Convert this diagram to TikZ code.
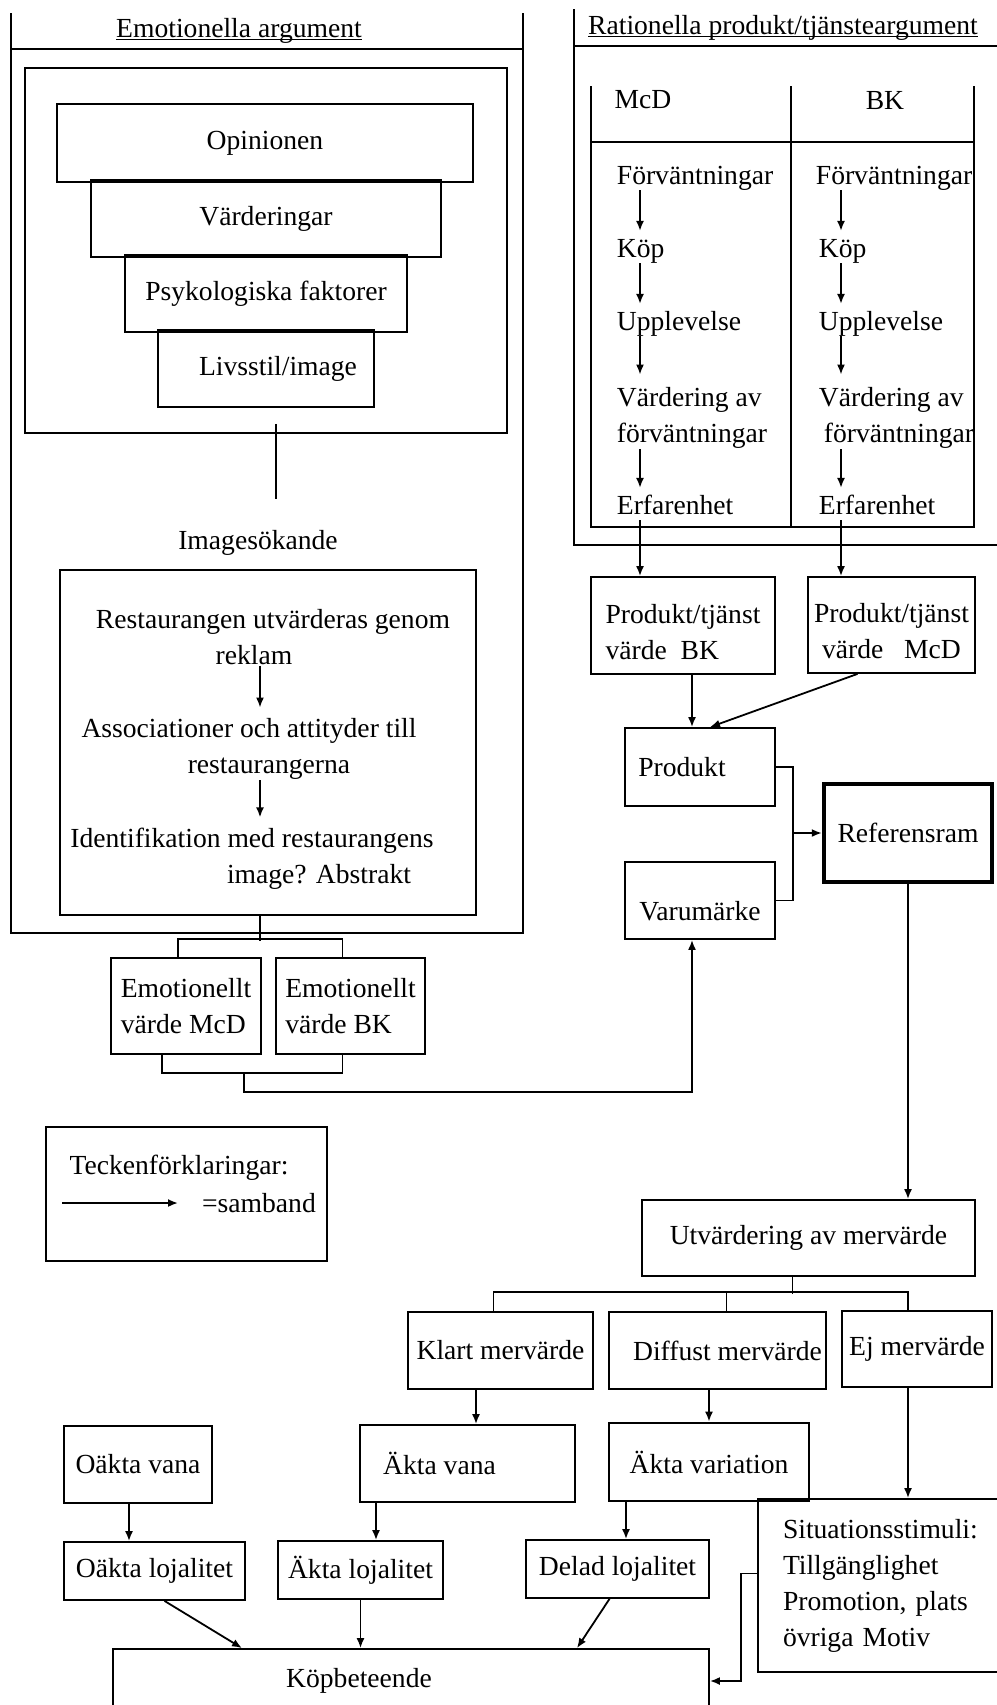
\documentclass[tikz,border=0pt]{standalone}
\usepackage{fontspec}
\setmainfont{Liberation Serif}
\usetikzlibrary{arrows.meta}
\tikzset{
	box/.style = {draw, line width=0.9pt, inner sep=0pt, align=center},
	wh/.style 2 args = {minimum width=#1*0.5pt, minimum height=#2*0.5pt},
	arr/.style = {-{Latex[length=5pt,width=4pt]}},
	item/.style = {inner sep=0pt, anchor=west, align=left},
	item1/.style = {item, text height=0.7em, text depth=0.22em},
}

\begin{document}
\begin{tikzpicture}[x=0.5pt, y=-0.5pt, line width=0.9pt, font=\fontsize{13.8}{18}\selectfont]
\useasboundingbox (0,0) rectangle (997,1705);
\clip (0,0) rectangle (997,1705);

% FRAMES

% emotionella
\draw (11,13) -- (11,933) -- (523,933) -- (523,13);
\draw (11,49) -- (523,49);
\node (emtitle) [anchor=base] at (239,37) {\underline{\smash{Emotionella argument}}};

% rationella
\draw (574,9) -- (574,545) -- (1000,545);
\draw (574,46) -- (1000,46);
\node (ratitle) [anchor=base] at (783,34) {\underline{\smash{Rationella produkt/tjänsteargument}}};

% NODES

% funnel
\node (inner) [box, wh={482}{365}] at (266,250.5) {};
\node (opin) [box, wh={416}{78}] at (265,143) {Opinionen};
\node (vard) [box, wh={350}{77}] at (266,218.5) {Värderingar};
\node (psyk) [box, wh={282}{77}] at (266,293.5) {Psykologiska faktorer};
\node (livs) [box, wh={216}{77}] at (266,368.5) {\hspace*{12pt}Livsstil/image};

% image search
\node (imgtitle) at (258,543) {Imagesökande};
\node (imgbox) [box, wh={416}{345}] at (268,742.5) {};
\coordinate (imgx) at (260,0);
\node (reklam) [align=center, inner sep=0pt] at (273,637) {Restaurangen utvärderas genom\\reklam\hspace*{19pt}};
\node (assoc) [align=center, inner sep=0pt] at (249,749) {Associationer och attityder till\\\hspace*{20pt}restaurangerna};
\node (ident) [align=center, inner sep=0pt] at (252,859) {Identifikation med restaurangens\\\hspace*{67pt}image? Abstrakt};

% emotional values
\node (emd) [box, wh={150}{96}, align=left] at (186,1006) {Emotionellt\\värde McD};
\node (ebk) [box, wh={149}{96}, align=left] at (350.5,1006) {Emotionellt\\värde BK};
\coordinate (emv) at (244,1072);

% legend
\node (legend) [box, wh={281}{134}] at (186.5,1194) {};
\node (legtext) at (179,1168) {Teckenförklaringar:};
\node (samband) at (259,1203) {=samband};
\coordinate (legA) at (62,1203);
\coordinate (legB) at (178,1203);

% table McD / BK
\draw (591,86) -- (591,527) -- (974,527) -- (974,86);
\draw (791,86) -- (791,527);
\draw (591,142) -- (974,142);
\node (mcd) at (643,100) {McD};
\node (bk) at (885,100) {BK};
\coordinate (colL) at (640,0);
\coordinate (colR) at (841,0);
\node (f1) [item1] at (616,180) {Förväntningar};
\node (k1) [item1] at (616,253) {Köp};
\node (u1) [item1] at (616,326) {Upplevelse};
\node (v1) [item] at (616,418) {Värdering av\\förväntningar};
\node (e1) [item1] at (616,510) {Erfarenhet};
\node (f2) [item1] at (815,180) {Förväntningar};
\node (k2) [item1] at (818,253) {Köp};
\node (u2) [item1] at (818,326) {Upplevelse};
\node (v2) [item] at (818,418) {Värdering av\\\hspace*{2.5pt}förväntningar};
\node (e2) [item1] at (818,510) {Erfarenhet};

% product values
\node (ptbk) [box, wh={184}{97}, align=left] at (683,625.5) {\rule{0pt}{16pt}Produkt/tjänst\\värde~~BK};
\node (ptmcd) [box, wh={167}{96}] at (891.5,625) {\rule{0pt}{16pt}Produkt/tjänst\\värde~~~McD};
\coordinate (xP) at (692,0);
\node (prod) [box, wh={150}{78}] at (700,767) {Produkt\hspace*{18pt}};
\node (varu) [box, wh={150}{77}] at (700,900.5) {\rule{0pt}{20pt}Varumärke};
\node (ref) [box, wh={168}{98}, line width=2.2pt] at (908,833) {Referensram};

% mervarde
\node (utv) [box, wh={333}{76}] at (808.5,1238) {Utvärdering av mervärde};
\node (klart) [box, wh={185}{77}] at (500.5,1350.5) {Klart mervärde};
\node (diff) [box, wh={217}{77}] at (717.5,1350.5) {\hspace*{10pt}Diffust mervärde};
\node (ej) [box, wh={150}{76}] at (917,1349) {Ej mervärde};

% vana, lojalitet
\node (ov) [box, wh={148}{77}] at (138,1464.5) {Oäkta vana};
\node (akv) [box, wh={215}{77}] at (467.5,1463.5) {Äkta vana\hspace*{28pt}};
\node (akvar) [box, wh={200}{78}, line width=1.4pt] at (709,1462) {Äkta variation};
\node (sit) [box, wh={300}{173}, text width=125pt, inner xsep=12.5pt, align=left] at (908,1585.5) {Situationsstimuli:\\Tillgänglighet\\Promotion, plats\\övriga Motiv};
\node (ol) [box, wh={181}{58}] at (154.5,1571) {Oäkta lojalitet};
\node (al) [box, wh={165}{58}] at (360.5,1570) {Äkta lojalitet};
\node (dl) [box, wh={183}{58}] at (617.5,1569) {Delad lojalitet};
\node (kop) [box, wh={596}{64}] at (411,1681) {Köpbeteende\hspace*{52pt}};
\coordinate (xKV) at (476,0);
\coordinate (xOV) at (129,0);
\coordinate (xAL) at (376,0);
\coordinate (xDL) at (626,0);

%CONNECTIONS
\draw ([xshift=5pt,yshift=5pt]inner.south) -- ++(0,75);
\draw [arr, shorten >=5pt] (reklam.south -| imgx) -- (assoc.north -| imgx);
\draw [arr, shorten >=5pt] (assoc.south -| imgx) -- (ident.north -| imgx);
\draw ([xshift=-4pt]imgbox.south) -- ++(0,25);
\draw ([xshift=-4pt]emd.north) -- ++(0,-18) -| ([xshift=-4pt]ebk.north);
\draw ([xshift=-12pt]emd.south) -- ++(0,18) -| ([xshift=-4pt]ebk.south);
\draw [arr] (emv) -- ++(0,20) -| (varu.south -| xP);
\draw [arr] (legA) -- (legB);

\draw [arr, shorten >=6pt] (f1.south -| colL) -- (k1.north -| colL);
\draw [arr, shorten >=6pt] (k1.south -| colL) -- (u1.north -| colL);
\draw [arr, shorten >=6pt] (u1.south -| colL) -- (v1.north -| colL);
\draw [arr, shorten >=6pt] (v1.south -| colL) -- (e1.north -| colL);
\draw [arr, shorten >=6pt] (f2.south -| colR) -- (k2.north -| colR);
\draw [arr, shorten >=6pt] (k2.south -| colR) -- (u2.north -| colR);
\draw [arr, shorten >=6pt] (u2.south -| colR) -- (v2.north -| colR);
\draw [arr, shorten >=6pt] (v2.south -| colR) -- (e2.north -| colR);
\draw [arr] (e1.south -| colL) -- (ptbk.north -| colL);
\draw [arr] (e2.south -| colR) -- (ptmcd.north -| colR);

\draw [arr] (ptbk.south -| xP) -- (prod.north -| xP);
\draw [arr] ([xshift=-17pt]ptmcd.south) -- ([xshift=5pt]prod.north);
\draw (prod.east) -- ++(17,0) coordinate (pv) |- (varu.east);
\draw [arr] (pv |- ref.west) -- (ref.west);
\draw [arr] (ref.south) -- (ref.south |- utv.north);

\draw ([xshift=-8pt]utv.south) -- ++(0,17);
\draw ([xshift=-3.5pt]klart.north) -- ++(0,-19) -| ([xshift=-4.5pt]ej.north);
\draw ([xshift=4.5pt]diff.north) -- ++(0,-19);
\draw [arr] (klart.south -| xKV) -- (akv.north -| xKV);
\draw [arr] (diff.south -| akvar) -- (akvar.north);
\draw [arr] (ej.south -| sit) -- (sit.north);
\draw [arr] (ov.south -| xOV) -- (ol.north -| xOV);
\draw [arr] (akv.south -| xAL) -- (al.north -| xAL);
\draw [arr] (akvar.south -| xDL) -- (dl.north -| xDL);
\draw [arr] ([xshift=5pt]ol.south) -- ([xshift=-84.5pt]kop.north);
\draw [arr] (al.south) -- (al.south |- kop.north);
\draw [arr] ([xshift=-4pt]dl.south) -- ([xshift=83pt]kop.north);
\draw [arr] ([yshift=6pt]sit.west) -- ++(-16,0) |- (kop.east);

\end{tikzpicture}
\end{document}
